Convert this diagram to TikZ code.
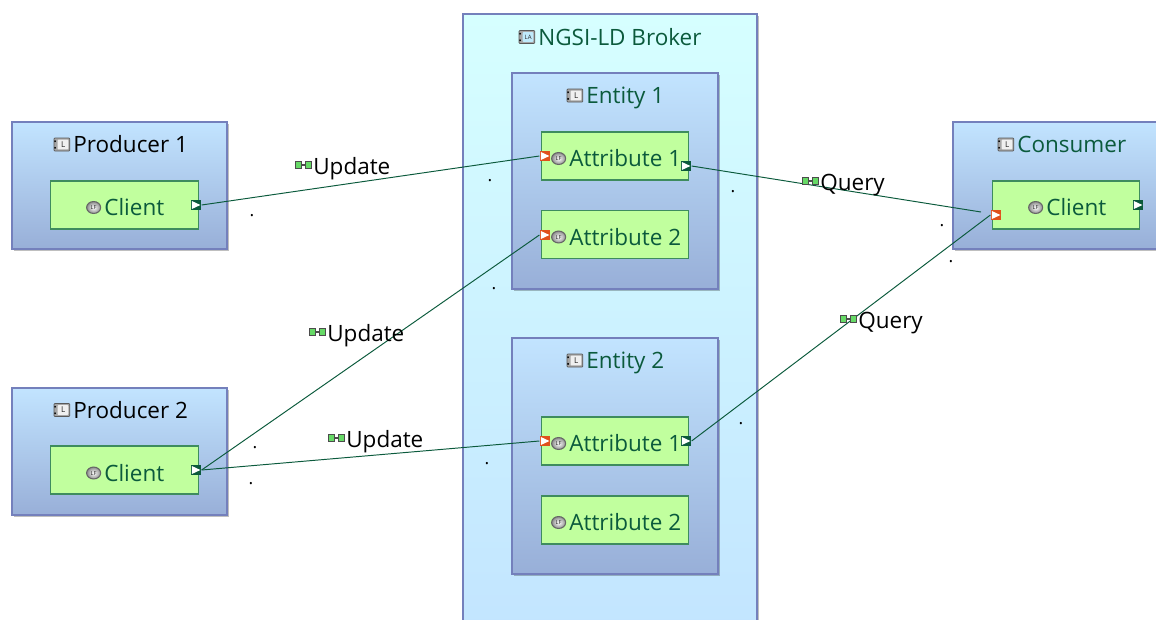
\documentclass[tikz,border=0pt]{standalone}
\usepackage{fontspec}
\setmainfont{Open Sans}
\usetikzlibrary{positioning,shadows,shapes.geometric}
\definecolor{capella}{HTML}{0B5A3C}
\definecolor{boxline}{HTML}{7480BC}
\definecolor{comptop}{HTML}{C2E4FF}
\definecolor{compbottom}{HTML}{98AFD8}
\definecolor{brokertop}{HTML}{D6FFFF}
\definecolor{brokerbottom}{HTML}{C2E4FF}
\definecolor{funcfill}{HTML}{C1FF9E}
\definecolor{funcline}{HTML}{3E8C5E}
\definecolor{inport}{HTML}{E0501C}
\tikzset{
    compbox/.style={draw=boxline, line width=0.7pt, outer sep=0pt, top color=comptop, bottom color=compbottom, minimum width=215*0.02cm, inner sep=0pt,
        drop shadow={shadow xshift=1.2pt, shadow yshift=-1.2pt, fill=black, opacity=0.25}},
    funcbox/.style={draw=funcline, line width=0.7pt, fill=funcfill, minimum width=147.5*0.02cm, minimum height=48*0.02cm, inner sep=0pt},
    title/.style={font=\fontsize{12.8}{15}\selectfont, text=capella, inner sep=0pt},
    portbox/.style={rectangle, fill=#1, minimum size=6pt, inner sep=0pt,
        path picture={\fill[white] ([shift={(0.6pt,-0.7pt)}]path picture bounding box.north west) -- ([shift={(-0.5pt,0pt)}]path picture bounding box.east) -- ([shift={(0.6pt,0.7pt)}]path picture bounding box.south west) -- cycle;}},
    lficon/.style={ellipse, draw=black!60, line width=0.6pt, inner color=white, outer color=black!45, minimum width=8pt, minimum height=6.8pt, inner sep=0pt, font=\fontsize{3.2}{3}\selectfont, text=black!85},
    compicon/.style={draw=black!65, line width=0.4pt, rounded corners=0.5pt, minimum width=9pt, minimum height=7.4pt, inner sep=0pt, font=\fontsize{4.6}{4}\selectfont, text=black!85,
        execute at begin node=\hspace{1.4pt},
        path picture={
            \fill[black!35] (path picture bounding box.south west) rectangle (path picture bounding box.north east);
            \fill[#1] ([shift={(2pt,0.9pt)}]path picture bounding box.south west) rectangle ([shift={(-0.9pt,-0.9pt)}]path picture bounding box.north east);
            \fill[black] ([shift={(0pt,1.2pt)}]path picture bounding box.south west) rectangle ++(1.1pt,1.2pt);
            \fill[black] ([shift={(0pt,-2.4pt)}]path picture bounding box.north west) rectangle ++(1.1pt,1.2pt);
        }},
    link/.style={draw=capella, line width=0.55pt},
    dot/.style={font=\normalsize, inner sep=0pt, anchor=base},
    exch/.style={draw=black!70, line width=0.5pt, fill=green!75!black!60, minimum width=3.4pt, minimum height=4.2pt, inner sep=0pt},
    flow/.style={font=\fontsize{12.8}{15}\selectfont, inner sep=0pt}
}
\begin{document}
\begin{tikzpicture}[x=0.02cm, y=-0.02cm]
    \useasboundingbox (0,0) rectangle (1156,619);
    \clip (0,0) rectangle (1156,619);
    % broker
    \node(broker) [compbox, top color=brokertop, bottom color=brokerbottom, minimum width=294*0.02cm, minimum height=640*0.02cm, anchor=north west] at (463,14) {};
    \node(brokertitle) [title, anchor=west] at (538,37) {NGSI-LD Broker};
    \node(brokericon) [compicon=cyan!25, left=1.6pt of brokertitle, font=\fontsize{3.4}{4}\selectfont] {LA};

    % entities
    \node(entityA) [compbox, minimum width=206*0.02cm, minimum height=216*0.02cm, anchor=north west] at (512,73) {};
    \node(entityAtitle) [title, anchor=west] at (586,98) {Entity 1};
    \node(entityAicon) [compicon=black!6, left=1.6pt of entityAtitle, yshift=1.4pt] {L};
    \node(entityB) [compbox, minimum width=206*0.02cm, minimum height=236*0.02cm, anchor=north west] at (512,338) {};
    \node(entityBtitle) [title, anchor=west] at (586,363) {Entity 2};
    \node(entityBicon) [compicon=black!6, left=1.6pt of entityBtitle, yshift=1.4pt] {L};

    % outer components
    \node(producerA) [compbox, minimum height=127*0.02cm, anchor=north west] at (12,122) {};
    \node(producerAtitle) [title, text=black, anchor=west] at (73,144.5) {Producer 1};
    \node(producerAicon) [compicon=black!6, left=1.6pt of producerAtitle] {L};
    \node(producerB) [compbox, minimum height=127*0.02cm, anchor=north west] at (12,388) {};
    \node(producerBtitle) [title, text=black, anchor=west] at (73,410) {Producer 2};
    \node(producerBicon) [compicon=black!6, left=1.6pt of producerBtitle] {L};
    \node(consumer) [compbox, minimum height=127*0.02cm, anchor=north west] at (953,122) {};
    \node(consumertitle) [title, anchor=west] at (1017,144.5) {Consumer};
    \node(consumericon) [compicon=black!6, left=1.6pt of consumertitle] {L};

    % functions
    \node(clientA) [funcbox] at (124.5,205) {};
    \node(clientAtitle) [title, anchor=west] at (104,207.5) {Client};
    \node(clientAicon) [lficon, left=1.6pt of clientAtitle] {LF};
    \node(clientB) [funcbox] at (124.5,470) {};
    \node(clientBtitle) [title, anchor=west] at (104,473) {Client};
    \node(clientBicon) [lficon, left=1.6pt of clientBtitle] {LF};
    \node(clientC) [funcbox] at (1066,205) {};
    \node(clientCtitle) [title, anchor=west] at (1046,207.5) {Client};
    \node(clientCicon) [lficon, left=1.6pt of clientCtitle] {LF};
    \node(attrAA) [funcbox] at (615,156) {};
    \node(attrAAtitle) [title, anchor=west] at (569,158.5) {Attribute 1};
    \node(attrAAicon) [lficon, left=1.6pt of attrAAtitle] {LF};
    \node(attrAB) [funcbox] at (615,234.5) {};
    \node(attrABtitle) [title, anchor=west] at (569,237) {Attribute 2};
    \node(attrABicon) [lficon, left=1.6pt of attrABtitle] {LF};
    \node(attrBA) [funcbox] at (615,441) {};
    \node(attrBAtitle) [title, anchor=west] at (569,443.5) {Attribute 1};
    \node(attrBAicon) [lficon, left=1.6pt of attrBAtitle] {LF};
    \node(attrBB) [funcbox] at (615,520) {};
    \node(attrBBtitle) [title, anchor=west] at (569,522.5) {Attribute 2};
    \node(attrBBicon) [lficon, left=1.6pt of attrBBtitle] {LF};

    % ports
    \node(clientAout) [portbox=capella] at (196,205) {};
    \node(clientBout) [portbox=capella] at (196,470) {};
    \node(clientCin) [portbox=inport] at (996,215) {};
    \node(clientCout) [portbox=capella] at (1138,205) {};
    \node(attrAAin) [portbox=inport] at (545,156) {};
    \node(attrAAout) [portbox=capella] at (686,166) {};
    \node(attrABin) [portbox=inport] at (545,235) {};
    \node(attrBAin) [portbox=inport] at (545,441) {};
    \node(attrBAout) [portbox=capella] at (686,441) {};

    % exchanges
    \coordinate(queryend) at (981,212);
    \draw[link](clientAout.east) to (attrAAin.west);
    \draw[link](clientBout.east) to (attrABin.west);
    \draw[link](clientBout.east) to (attrBAin.west);
    \draw[link](attrAAout.east) to (queryend);
    \draw[link](attrBAout.east) to (clientCin.west);

    % exchange labels
    \foreach \name/\tx/\ty/\txt in {updA/313/169/Update, updB/327/336/Update, updC/346/442/Update, qryA/820/185/Query, qryB/858/323/Query}{
        \node(\name) [flow, anchor=west] at (\tx,\ty) {\txt};
        \node(\name R) [exch, left=0.8pt of \name, yshift=2.2pt] {};
        \node(\name L) [exch, left=1.4pt of \name R] {};
        \draw[draw=black!70, line width=0.8pt](\name L) to (\name R);
    }

    % stray labels
    \foreach \tx/\ty [count=\i] in {252/216, 490/181, 733/192, 942/226, 951/262, 494/289, 741/424, 255/448, 251/484, 487/464}
        \node(mark\i) [dot] at (\tx,\ty) {.};
\end{tikzpicture}
\end{document}
